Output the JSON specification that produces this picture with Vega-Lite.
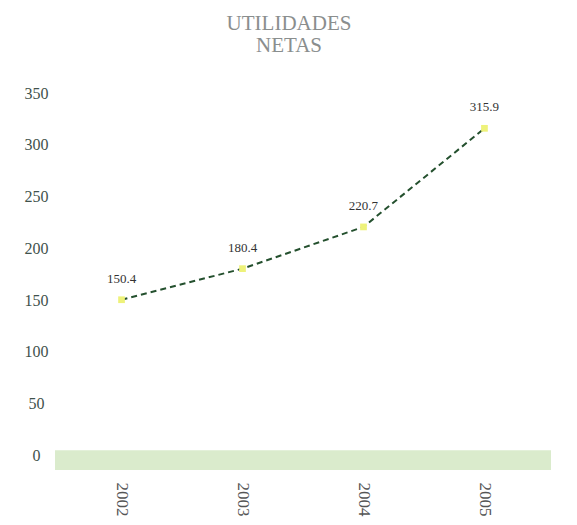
{
  "$schema": "https://vega.github.io/schema/vega-lite/v6.json",
  "width": 496,
  "height": 377,
  "autosize": "none",
  "padding": {"left": 55, "top": 93, "right": 26, "bottom": 55},
  "background": "white",
  "title": {
    "text": ["UTILIDADES", "NETAS"],
    "font": "Liberation Serif",
    "fontSize": 21,
    "fontWeight": "normal",
    "color": "#8a8e8e",
    "lineHeight": 22,
    "anchor": "middle",
    "dx": -14,
    "offset": 29
  },
  "config": {"view": {"stroke": null}},
  "datasets": {
    "pts": [
      {"year": "2002", "value": 150.4},
      {"year": "2003", "value": 180.4},
      {"year": "2004", "value": 220.7},
      {"year": "2005", "value": 315.9}
    ],
    "floor": [{"lo": -14, "hi": 5}]
  },
  "layer": [
    {
      "data": {"name": "floor"},
      "mark": {"type": "rect", "color": "#d6e9c6", "opacity": 0.9},
      "encoding": {
        "y": {"field": "lo", "type": "quantitative"},
        "y2": {"field": "hi"}
      }
    },
    {
      "data": {"name": "pts"},
      "mark": {"type": "line", "color": "#24502e", "strokeDash": [6, 4], "strokeWidth": 2},
      "encoding": {
        "x": {
          "field": "year", "type": "ordinal",
          "scale": {"type": "point", "padding": 0.55},
          "axis": {
            "title": null, "labelAngle": 90, "labelAlign": "left", "labelBaseline": "middle",
            "domain": false, "ticks": false, "tickSize": 0, "labelPadding": 12,
            "labelFont": "Liberation Serif", "labelFontSize": 17, "labelColor": "#555555"
          }
        },
        "y": {
          "field": "value", "type": "quantitative",
          "scale": {"domain": [-14, 350], "nice": false, "zero": false},
          "axis": {
            "title": null, "values": [0, 50, 100, 150, 200, 250, 300, 350],
            "domain": false, "ticks": false, "tickSize": 0, "grid": false,
            "labelAlign": "center", "labelPadding": 19,
            "labelFont": "Liberation Serif", "labelFontSize": 16, "labelColor": "#3f524c"
          }
        }
      }
    },
    {
      "data": {"name": "pts"},
      "mark": {"type": "square", "color": "#eef27a", "opacity": 1, "size": 45},
      "encoding": {
        "x": {"field": "year", "type": "ordinal"},
        "y": {"field": "value", "type": "quantitative"}
      }
    },
    {
      "data": {"name": "pts"},
      "mark": {"type": "text", "font": "Liberation Serif", "fontSize": 13, "color": "#333333", "dy": -21},
      "encoding": {
        "x": {"field": "year", "type": "ordinal"},
        "y": {"field": "value", "type": "quantitative"},
        "text": {"field": "value", "type": "quantitative", "format": ".1f"}
      }
    }
  ]
}
